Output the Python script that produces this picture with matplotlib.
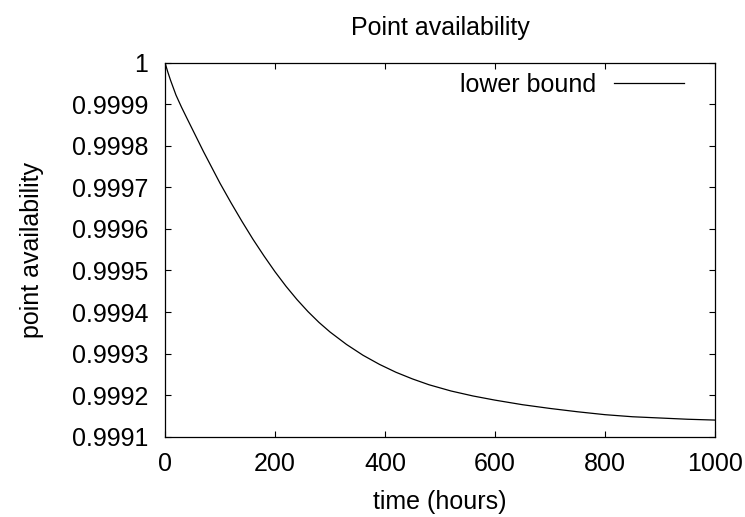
import matplotlib
matplotlib.use("Agg")
import matplotlib.pyplot as plt

plt.rcParams['font.family'] = ['Liberation Sans', 'DejaVu Sans']

# values
hours = [0, 5, 10, 20, 30, 40, 55, 70, 85, 100, 120, 140, 160, 180, 200,
         220, 240, 260, 280, 300, 330, 360, 390, 420, 450, 480, 520, 560,
         600, 650, 700, 750, 800, 850, 900, 950, 1000]
avail = [1.0, 0.999978, 0.999958, 0.999922, 0.999893, 0.999866, 0.999826,
         0.999786, 0.999748, 0.999710, 0.999663, 0.999618, 0.999575,
         0.999535, 0.999497, 0.999462, 0.999430, 0.999401, 0.999375,
         0.999352, 0.999322, 0.999296, 0.999274, 0.999255, 0.999239,
         0.999225, 0.999210, 0.999198, 0.999188, 0.999177, 0.999168,
         0.999160, 0.999153, 0.999148, 0.999145, 0.999142, 0.999140]

x_ticks = [0, 200, 400, 600, 800, 1000]
y_ticks = [0.9991, 0.9992, 0.9993, 0.9994, 0.9995, 0.9996, 0.9997,
           0.9998, 0.9999, 1.0]
y_labels = ['0.9991', '0.9992', '0.9993', '0.9994', '0.9995', '0.9996',
            '0.9997', '0.9998', '0.9999', '1']

fig = plt.figure(figsize=(7.45, 5.17), dpi=100)
ax = fig.add_axes([165 / 745, 1 - 436.7 / 517, 550 / 745, 374 / 517])

ax.plot(hours, avail, color='black', lw=0.9, label='lower bound')

ax.set_xlim(0, 1000)
ax.set_ylim(0.9991, 1.0)
ax.set_xticks(x_ticks)
ax.set_yticks(y_ticks)
ax.set_yticklabels(y_labels)
ax.tick_params(direction='in', length=4.5, width=0.8, top=True, right=True,
               labelsize=18)
ax.tick_params(axis='x', pad=11)
ax.tick_params(axis='y', pad=12)
for s in ax.spines.values():
    s.set_linewidth(0.9)

ax.set_title('Point availability', fontsize=18, pad=20)
ax.set_xlabel('time (hours)', fontsize=18, labelpad=10)
ax.set_ylabel('point availability', fontsize=18, labelpad=20)

ax.legend(loc='upper right', markerfirst=False, frameon=False, fontsize=18,
          handlelength=2.8, handletextpad=0.7, borderaxespad=0.0,
          bbox_to_anchor=(0.961, 1.0))

fig.savefig('out.png', dpi=100)
